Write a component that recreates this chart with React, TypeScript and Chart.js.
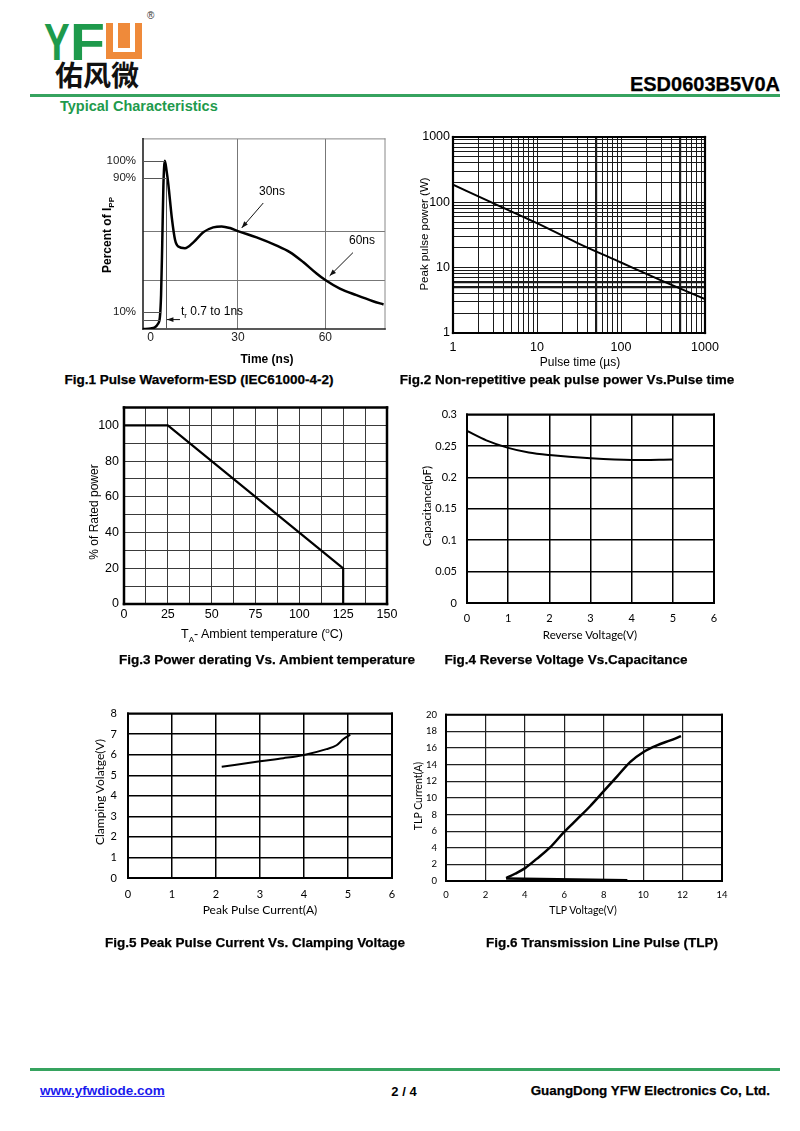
import React, { useEffect, useRef } from "react";
import { Chart, registerables } from "chart.js";

Chart.register(...registerables);

const SANS = "'Liberation Sans', Arial, sans-serif";
const CAL = "Lato, 'Open Sans', sans-serif";
const CJK = "'Noto Sans CJK SC', sans-serif";

// ---------- Fig.1 Pulse waveform (ESD) ----------
const fig1Time = [-2.6, 0, 1.5, 2.5, 3.2, 3.6, 4.0, 4.4, 4.9, 5.5, 6.1, 7.3, 8.4, 9.5, 11.8, 14.7, 18.1, 21.5, 24.4, 27.3, 30, 36.4, 43.3, 47.8, 52.4, 57, 60, 65, 70.7, 76.4, 80];
const fig1Percent = [0, 0.3, 1, 3, 7, 20, 50, 85, 100, 94, 86, 66, 53, 49, 48, 51.5, 57.5, 60.4, 61, 60, 58.2, 54.5, 49.6, 45.7, 39.8, 33, 29.1, 24, 20.1, 16.5, 14.6];
const fig1XTicks = [0, 30, 60];
const fig1YTicks = [10, 29.1, 58.2, 90, 100];
const fig1YLabels = ["10%", "", "", "90%", "100%"];
const fig1LevelLines = [[100, 4.9], [90, 5.3], [10, 3.7], [5.5, 3.3]];
const fig1RiseMarker = 5.3;
const fig1Arrows = [
  [38.7, 74.9, 31.3, 60.1],
  [69.5, 45.4, 61.5, 31.6],
  [10.1, 5.6, 5.6, 5.6],
];

// ---------- Fig.2 Peak pulse power vs pulse time ----------
const fig2PulseTime = [1, 3, 10, 30, 100, 300, 1000];
const fig2Power = [186, 97, 48, 24, 12, 6.4, 3.3];
const fig2Decades = [1, 10, 100, 1000];
const fig2XBold = [50, 500];
const fig2YBold = [5, 6];

// ---------- Fig.3 Power derating ----------
const fig3Temp = [0, 25, 125, 125];
const fig3Rated = [100, 100, 20, 0];
const fig3XTicks = [0, 12.5, 25, 37.5, 50, 62.5, 75, 87.5, 100, 112.5, 125, 137.5, 150];
const fig3YTicks = [0, 10, 20, 30, 40, 50, 60, 70, 80, 90, 100, 110];

// ---------- Fig.4 Reverse voltage vs capacitance ----------
const fig4Voltage = [0, 0.47, 1, 1.5, 2, 3, 4, 5];
const fig4Capacitance = [0.274, 0.259, 0.247, 0.2396, 0.2355, 0.2303, 0.2277, 0.2287];
const fig4XTicks = [0, 1, 2, 3, 4, 5, 6];
const fig4YTicks = [0, 0.05, 0.1, 0.15, 0.2, 0.25, 0.3];

// ---------- Fig.5 Peak pulse current vs clamping voltage ----------
const fig5Current = [2.13, 3, 3.53, 4, 4.51, 4.74, 4.89, 5.05];
const fig5Clamp = [5.41, 5.68, 5.83, 5.99, 6.27, 6.46, 6.75, 6.98];
const fig5XTicks = [0, 1, 2, 3, 4, 5, 6];
const fig5YTicks = [0, 1, 2, 3, 4, 5, 6, 7, 8];

// ---------- Fig.6 TLP ----------
const fig6Voltage = [3.05, 3.5, 4.01, 4.6, 5.28, 5.96, 6.64, 7.31, 7.99, 8.67, 9.35, 10.02, 10.7, 11.38, 11.92];
const fig6Current = [0.36, 0.87, 1.55, 2.66, 4.04, 5.82, 7.41, 8.99, 10.77, 12.55, 14.33, 15.52, 16.32, 16.91, 17.42];
const fig6BaseVoltage = [3.05, 9.2];
const fig6BaseCurrent = [0.3, 0.1];
const fig6XTicks = [0, 2, 4, 6, 8, 10, 12, 14];
const fig6YTicks = [0, 2, 4, 6, 8, 10, 12, 14, 16, 18, 20];

// ---------- layout helpers ----------
type Area = { L: number; T: number; R: number; B: number };
const YW = 46;
const XH = 30;
const PT = 12;
const PR = 24;

const A1: Area = { L: 143, T: 137, R: 385, B: 329 };
const A2: Area = { L: 453, T: 137, R: 705, B: 333 };
const A3: Area = { L: 124, T: 407, R: 387, B: 604 };
const A4: Area = { L: 467, T: 410, R: 714, B: 603 };
const A5: Area = { L: 128, T: 708, R: 392, B: 878 };
const A6: Area = { L: 446, T: 712, R: 722, B: 881 };

type Side = [string, number];
function makeFrame(top: Side, right: Side, bottom: Side, left: Side) {
  return {
    id: "frame",
    beforeDatasetsDraw(chart: any) {
      const { ctx, chartArea: a } = chart;
      ctx.save();
      ctx.lineCap = "square";
      const seg = (s: Side, x1: number, y1: number, x2: number, y2: number) => {
        ctx.strokeStyle = s[0];
        ctx.lineWidth = s[1];
        ctx.beginPath();
        ctx.moveTo(x1, y1);
        ctx.lineTo(x2, y2);
        ctx.stroke();
      };
      seg(top, a.left, a.top, a.right, a.top);
      seg(right, a.right, a.top, a.right, a.bottom);
      seg(bottom, a.left, a.bottom, a.right, a.bottom);
      seg(left, a.left, a.top, a.left, a.bottom);
      ctx.restore();
    },
  };
}

type AxisOpt = {
  type?: string;
  min: number;
  max: number;
  ticks: number[];
  label: (v: number) => string;
  gridColor: any;
  gridWidth: any;
  pad: number;
  family: string;
  size: number;
  color?: string;
};

function axis(dir: "x" | "y", o: AxisOpt) {
  return {
    type: o.type || "linear",
    min: o.min,
    max: o.max,
    afterFit: (s: any) => {
      if (dir === "x") s.height = XH;
      else s.width = YW;
    },
    afterBuildTicks: (s: any) => {
      s.ticks = o.ticks.map((v) => ({ value: v }));
    },
    border: { display: false },
    grid: { color: o.gridColor, lineWidth: o.gridWidth, drawTicks: false },
    ticks: {
      autoSkip: false,
      maxRotation: 0,
      minRotation: 0,
      padding: o.pad,
      color: o.color || "#000",
      font: { family: o.family, size: o.size },
      callback: (v: any) => o.label(Number(v)),
    },
  };
}

function series(xs: number[], ys: number[], width: number, mono = true) {
  return {
    data: xs.map((x, i) => ({ x, y: ys[i] })),
    borderColor: "#000",
    borderWidth: width,
    pointRadius: 0,
    fill: false,
    tension: 0,
    cubicInterpolationMode: mono ? "monotone" : "default",
    borderJoinStyle: "round",
  };
}

function config(datasets: any[], x: any, y: any, plugins: any[]) {
  return {
    type: "line",
    data: { datasets },
    options: {
      responsive: false,
      animation: false,
      devicePixelRatio: 1,
      layout: { padding: { left: 0, top: PT, right: PR, bottom: 0 } },
      plugins: { legend: { display: false }, tooltip: { enabled: false } },
      scales: { x, y },
    },
    plugins,
  };
}

function ChartCanvas({ area, build }: { area: Area; build: () => any }) {
  const ref = useRef<HTMLCanvasElement | null>(null);
  const w = area.R - area.L + YW + PR;
  const h = area.B - area.T + PT + XH;
  useEffect(() => {
    const chart = new Chart(ref.current as HTMLCanvasElement, build());
    return () => chart.destroy();
  }, []);
  return (
    <canvas
      ref={ref}
      width={w}
      height={h}
      style={{ position: "absolute", left: area.L - YW, top: area.T - PT, width: w, height: h }}
    />
  );
}

const clear = "rgba(0,0,0,0)";
const has = (arr: number[], v: number) => arr.some((a) => Math.abs(a - v) < 1e-6);

// ---------- chart builders ----------
const fig1Annot = {
  id: "fig1Annot",
  afterDatasetsDraw(chart: any) {
    const { ctx, scales } = chart;
    const x = scales.x;
    const y = scales.y;
    ctx.save();
    ctx.strokeStyle = "#555";
    ctx.lineWidth = 1;
    fig1LevelLines.forEach(([lv, xe]) => {
      ctx.beginPath();
      ctx.moveTo(x.left, Math.round(y.getPixelForValue(lv)) + 0.5);
      ctx.lineTo(x.getPixelForValue(xe), Math.round(y.getPixelForValue(lv)) + 0.5);
      ctx.stroke();
    });
    ctx.beginPath();
    const rx = Math.round(x.getPixelForValue(fig1RiseMarker)) + 0.5;
    ctx.moveTo(rx, y.getPixelForValue(90));
    ctx.lineTo(rx, y.bottom);
    ctx.stroke();
    ctx.strokeStyle = "#111";
    ctx.fillStyle = "#111";
    fig1Arrows.forEach(([x1, y1, x2, y2]) => {
      const px1 = x.getPixelForValue(x1);
      const py1 = y.getPixelForValue(y1);
      const px2 = x.getPixelForValue(x2);
      const py2 = y.getPixelForValue(y2);
      const ang = Math.atan2(py2 - py1, px2 - px1);
      ctx.beginPath();
      ctx.moveTo(px1, py1);
      ctx.lineTo(px2, py2);
      ctx.stroke();
      const hl = 7;
      ctx.beginPath();
      ctx.moveTo(px2, py2);
      ctx.lineTo(px2 - hl * Math.cos(ang - 0.35), py2 - hl * Math.sin(ang - 0.35));
      ctx.lineTo(px2 - hl * Math.cos(ang + 0.35), py2 - hl * Math.sin(ang + 0.35));
      ctx.closePath();
      ctx.fill();
    });
    ctx.restore();
  },
};

const buildFig1 = () =>
  config(
    [series(fig1Time, fig1Percent, 2.5)],
    axis("x", {
      min: -2.6,
      max: 80.5,
      ticks: fig1XTicks,
      label: (v) => String(v),
      gridColor: (c: any) => (c.tick && c.tick.value === 0 ? clear : "#777"),
      gridWidth: 1,
      pad: 1,
      family: SANS,
      size: 12,
      color: "#222",
    }),
    axis("y", {
      min: 0,
      max: 113,
      ticks: fig1YTicks,
      label: (v) => fig1YLabels[fig1YTicks.findIndex((t) => Math.abs(t - v) < 1e-6)] || "",
      gridColor: (c: any) => (c.tick && (c.tick.value === 29.1 || c.tick.value === 58.2) ? "#777" : clear),
      gridWidth: 1,
      pad: 7,
      family: SANS,
      size: 11.5,
      color: "#222",
    }),
    [makeFrame(["#888", 1], ["#888", 1], ["#222", 1.6], ["#222", 1.6]), fig1Annot]
  );

const logGrid: number[] = [];
fig2Decades.slice(0, 3).forEach((d) => {
  for (let k = 1; k < 10; k++) logGrid.push(d * k);
});
logGrid.push(1000);

const buildFig2 = () =>
  config(
    [series(fig2PulseTime, fig2Power, 2)],
    axis("x", {
      type: "logarithmic",
      min: 1,
      max: 1000,
      ticks: logGrid,
      label: (v) => (has(fig2Decades, v) ? String(v) : ""),
      gridColor: "#1a1a1a",
      gridWidth: (c: any) => (c.tick && has(fig2XBold, c.tick.value) ? 2.2 : 1),
      pad: 7,
      family: SANS,
      size: 12.5,
    }),
    axis("y", {
      type: "logarithmic",
      min: 1,
      max: 1000,
      ticks: logGrid,
      label: (v) => (has(fig2Decades, v) ? String(v) : ""),
      gridColor: "#1a1a1a",
      gridWidth: (c: any) => (c.tick && has(fig2YBold, c.tick.value) ? 2.2 : 1),
      pad: 3,
      family: SANS,
      size: 12.5,
    }),
    [makeFrame(["#000", 2.2], ["#000", 2.2], ["#000", 2.2], ["#000", 2.2])]
  );

const buildFig3 = () =>
  config(
    [series(fig3Temp, fig3Rated, 2.2, false)],
    axis("x", {
      min: 0,
      max: 150,
      ticks: fig3XTicks,
      label: (v) => (v % 25 === 0 ? String(v) : ""),
      gridColor: "#3a3a3a",
      gridWidth: 1,
      pad: 3,
      family: SANS,
      size: 12.5,
    }),
    axis("y", {
      min: 0,
      max: 110,
      ticks: fig3YTicks,
      label: (v) => (v % 20 === 0 && v <= 100 ? String(v) : ""),
      gridColor: "#3a3a3a",
      gridWidth: 1,
      pad: 5,
      family: SANS,
      size: 12.5,
    }),
    [makeFrame(["#000", 2.5], ["#000", 2.5], ["#000", 2.5], ["#000", 2.5])]
  );

const buildFig4 = () =>
  config(
    [series(fig4Voltage, fig4Capacitance, 2)],
    axis("x", {
      min: 0,
      max: 6,
      ticks: fig4XTicks,
      label: (v) => String(v),
      gridColor: "#000",
      gridWidth: 1.5,
      pad: 9,
      family: CAL,
      size: 11,
    }),
    axis("y", {
      min: 0,
      max: 0.3,
      ticks: fig4YTicks,
      label: (v) => String(+v.toFixed(2)),
      gridColor: "#000",
      gridWidth: 1.5,
      pad: 10,
      family: CAL,
      size: 11,
    }),
    [makeFrame(["#000", 2], ["#000", 2], ["#000", 2], ["#000", 2])]
  );

const buildFig5 = () =>
  config(
    [series(fig5Current, fig5Clamp, 2)],
    axis("x", {
      min: 0,
      max: 6,
      ticks: fig5XTicks,
      label: (v) => String(v),
      gridColor: "#000",
      gridWidth: 1.5,
      pad: 10,
      family: CAL,
      size: 11,
    }),
    axis("y", {
      min: 0,
      max: 8,
      ticks: fig5YTicks,
      label: (v) => String(v),
      gridColor: "#000",
      gridWidth: 1.5,
      pad: 11,
      family: CAL,
      size: 11,
    }),
    [makeFrame(["#000", 2], ["#000", 2], ["#000", 2], ["#000", 2])]
  );

const buildFig6 = () =>
  config(
    [series(fig6Voltage, fig6Current, 2.5), series(fig6BaseVoltage, fig6BaseCurrent, 2.5, false)],
    axis("x", {
      min: 0,
      max: 14,
      ticks: fig6XTicks,
      label: (v) => String(v),
      gridColor: "#222",
      gridWidth: 1.2,
      pad: 8,
      family: CAL,
      size: 9.5,
    }),
    axis("y", {
      min: 0,
      max: 20,
      ticks: fig6YTicks,
      label: (v) => String(v),
      gridColor: "#222",
      gridWidth: 1.2,
      pad: 9,
      family: CAL,
      size: 9.5,
    }),
    [makeFrame(["#000", 2], ["#000", 2], ["#000", 2], ["#000", 2])]
  );

// ---------- text overlay ----------
function Txt(props: {
  x: number;
  y: number;
  size?: number;
  bold?: boolean;
  rot?: boolean;
  family?: string;
  color?: string;
  anchor?: "center" | "left" | "right";
  style?: any;
  children: any;
}) {
  const { x, y, size = 12, bold = false, rot = false, family = SANS, color = "#000", anchor = "center", style } = props;
  const tr = rot
    ? "translate(-50%,-50%) rotate(-90deg)"
    : anchor === "center"
    ? "translate(-50%,-50%)"
    : anchor === "left"
    ? "translate(0,-50%)"
    : "translate(-100%,-50%)";
  return (
    <div
      style={{
        position: "absolute",
        left: x,
        top: y,
        fontSize: size,
        fontWeight: bold ? 700 : 400,
        fontFamily: family,
        color,
        whiteSpace: "nowrap",
        lineHeight: 1.2,
        transform: tr,
        ...style,
      }}
    >
      {props.children}
    </div>
  );
}

const GREEN = "#1e9a4c";
const ORANGE = "#ef8a3a";
const capStyle = { WebkitTextStroke: "0.25px #000" };

export default function App() {
  return (
    <div
      style={{
        position: "absolute",
        left: 0,
        top: 0,
        width: 800,
        height: 1131,
        background: "#fff",
        overflow: "hidden",
        fontFamily: SANS,
        color: "#000",
      }}
    >
      {/* header logo */}
      <div style={{ position: "absolute", left: 44, top: 16, fontFamily: SANS, fontWeight: 700, fontSize: 52, lineHeight: "52px", color: GREEN, transform: "scaleX(0.74)", transformOrigin: "left top" }}>Y</div>
      <div style={{ position: "absolute", left: 70, top: 16, fontFamily: SANS, fontWeight: 700, fontSize: 52, lineHeight: "52px", color: GREEN, transform: "scaleX(1.1)", transformOrigin: "left top" }}>F</div>
      <div style={{ position: "absolute", left: 106, top: 23, width: 36, height: 36, background: ORANGE }}>
        <div style={{ position: "absolute", left: 7, top: 0, width: 22, height: 29, background: "#fff" }} />
        <div style={{ position: "absolute", left: 12, top: 0, width: 12, height: 25, background: ORANGE }} />
      </div>
      <div style={{ position: "absolute", left: 147, top: 10, fontSize: 10, fontFamily: SANS, color: "#333" }}>®</div>
      <div style={{ position: "absolute", left: 55, top: 60, fontFamily: CJK, fontWeight: 700, fontSize: 28, lineHeight: "28px", color: "#111" }}>佑风微</div>
      <div style={{ position: "absolute", right: 20, top: 74, fontFamily: SANS, fontWeight: 700, fontSize: 20, lineHeight: "20px", ...capStyle }}>ESD0603B5V0A</div>
      <div style={{ position: "absolute", left: 30, top: 94, width: 750, height: 3, background: "#36a35f" }} />
      <div style={{ position: "absolute", left: 60, top: 98, fontFamily: SANS, fontWeight: 700, fontSize: 14.5, lineHeight: "17px", color: GREEN }}>Typical Characteristics</div>

      {/* charts */}
      <ChartCanvas area={A1} build={buildFig1} />
      <ChartCanvas area={A2} build={buildFig2} />
      <ChartCanvas area={A3} build={buildFig3} />
      <ChartCanvas area={A4} build={buildFig4} />
      <ChartCanvas area={A5} build={buildFig5} />
      <ChartCanvas area={A6} build={buildFig6} />

      {/* Fig.1 texts */}
      <Txt x={272} y={191} size={12}>30ns</Txt>
      <Txt x={362} y={240} size={12}>60ns</Txt>
      <Txt x={181} y={312} size={12} anchor="left">
        t<sub style={{ fontSize: 8 }}>r</sub> 0.7 to 1ns
      </Txt>
      <Txt x={108} y={235} size={12} bold rot>
        Percent of I<sub style={{ fontSize: 8 }}>PP</sub>
      </Txt>
      <Txt x={267} y={359} size={12} bold>Time (ns)</Txt>
      <Txt x={199} y={380} size={13.5} bold style={capStyle}>Fig.1 Pulse Waveform-ESD (IEC61000-4-2)</Txt>

      {/* Fig.2 texts */}
      <Txt x={425} y={234} size={11.5} rot>Peak pulse power (W)</Txt>
      <Txt x={580} y={362} size={12}>Pulse time (µs)</Txt>
      <Txt x={567} y={380} size={13.5} bold style={capStyle}>Fig.2 Non-repetitive peak pulse power Vs.Pulse time</Txt>

      {/* Fig.3 texts */}
      <Txt x={94} y={512} size={12} rot>% of Rated power</Txt>
      <Txt x={262} y={635} size={12.5}>
        T<sub style={{ fontSize: 8 }}>A</sub>- Ambient temperature (<sup style={{ fontSize: 8 }}>o</sup>C)
      </Txt>
      <Txt x={267} y={660} size={13.5} bold style={capStyle}>Fig.3 Power derating Vs. Ambient temperature</Txt>

      {/* Fig.4 texts */}
      <Txt x={427} y={506} size={11.5} family={CAL} rot>Capacitance(pF)</Txt>
      <Txt x={590} y={635} size={11.5} family={CAL}>Reverse Voltage(V)</Txt>
      <Txt x={566} y={660} size={13.5} bold style={capStyle}>Fig.4 Reverse Voltage Vs.Capacitance</Txt>

      {/* Fig.5 texts */}
      <Txt x={100} y={792} size={12} family={CAL} rot>Clamping Volatge(V)</Txt>
      <Txt x={260} y={910} size={12} family={CAL}>Peak Pulse Current(A)</Txt>
      <Txt x={255} y={943} size={13.5} bold style={capStyle}>Fig.5 Peak Pulse Current Vs. Clamping Voltage</Txt>

      {/* Fig.6 texts */}
      <Txt x={418} y={796} size={10.5} family={CAL} rot>TLP Current(A)</Txt>
      <Txt x={583} y={910} size={10.5} family={CAL}>TLP Voltage(V)</Txt>
      <Txt x={602} y={943} size={13.5} bold style={capStyle}>Fig.6 Transmission Line Pulse (TLP)</Txt>

      {/* footer */}
      <div style={{ position: "absolute", left: 30, top: 1068, width: 750, height: 3, background: "#36a35f" }} />
      <Txt x={40} y={1091} size={13.5} bold anchor="left" color="#1a1aee" style={{ textDecoration: "underline" }}>www.yfwdiode.com</Txt>
      <Txt x={404} y={1092} size={13} bold>2 / 4</Txt>
      <Txt x={770} y={1091} size={13.4} bold anchor="right" style={capStyle}>GuangDong YFW Electronics Co, Ltd.</Txt>
    </div>
  );
}
